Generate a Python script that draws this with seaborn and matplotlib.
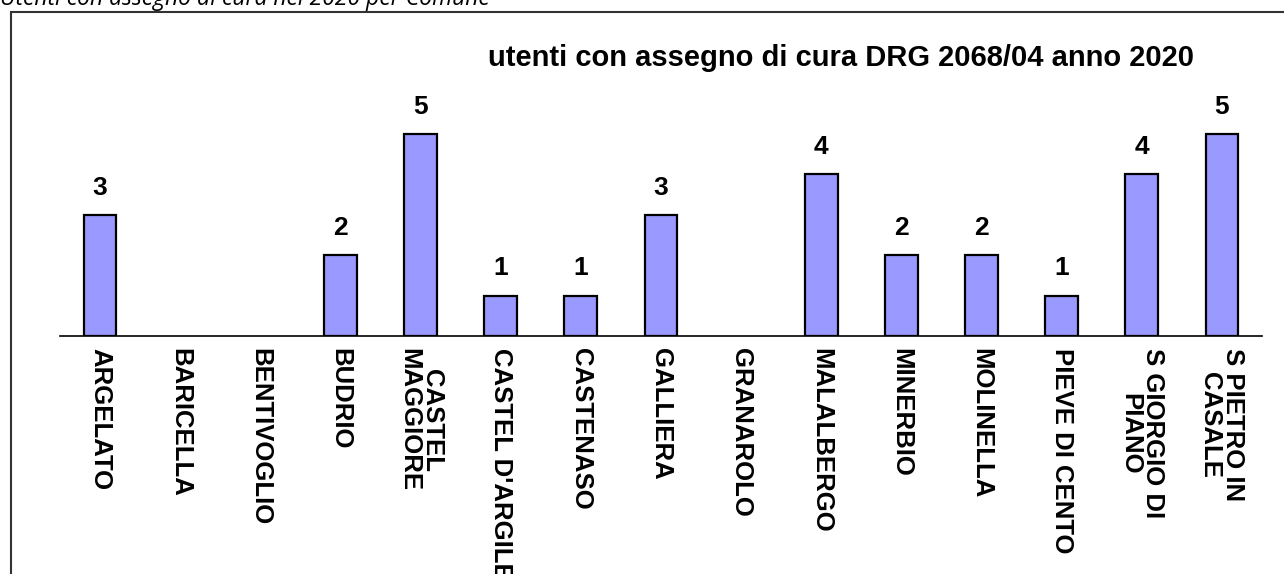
import numpy as np
import pandas as pd
import matplotlib
matplotlib.use("Agg")
import matplotlib.pyplot as plt
import seaborn as sns
from matplotlib.patches import Rectangle

comuni = ["ARGELATO", "BARICELLA", "BENTIVOGLIO", "BUDRIO", "CASTEL\nMAGGIORE",
          "CASTEL D'ARGILE", "CASTENASO", "GALLIERA", "GRANAROLO", "MALALBERGO",
          "MINERBIO", "MOLINELLA", "PIEVE DI CENTO", "S GIORGIO DI\nPIANO",
          "S PIETRO IN\nCASALE"]
utenti = [3, 0, 0, 2, 5, 1, 1, 3, 0, 4, 2, 2, 1, 4, 5]

titolo = "utenti con assegno di cura DRG 2068/04 anno 2020"
didascalia = "Utenti con assegno di cura nel 2020 per Comune"

data = pd.DataFrame({"comune": comuni, "utenti": utenti})

sns.set_style("white")
plt.rcParams['font.family'] = ['Liberation Sans', 'DejaVu Sans']
plt.rcParams['text.color'] = 'black'
plt.rcParams['xtick.color'] = 'black'

fig = plt.figure(figsize=(12.84, 5.74), dpi=100)
ax = fig.add_axes([60/1284, 1-336/574, 1202/1284, (336-93.6)/574])

sns.barplot(data=data, x="comune", y="utenti", color="#9999ff", saturation=1,
            width=0.41, edgecolor="black", linewidth=1.6, ax=ax)

# niente bordo per le barre a zero
for p in ax.patches:
    if p.get_height() == 0:
        p.set_linewidth(0)

# etichette valore sopra le barre
for i, v in enumerate(utenti):
    if v > 0:
        ax.annotate(str(v), (i, v), xytext=(0, 11), textcoords="offset points",
                    ha="center", va="bottom", fontsize=19, fontweight="bold")

ax.set_xlim(-0.5, len(comuni) - 0.5)
ax.set_ylim(0, 6)
ax.set_xlabel("")
ax.set_ylabel("")
ax.set_yticks([])
for s in ["top", "right", "left"]:
    ax.spines[s].set_visible(False)
ax.spines["bottom"].set_linewidth(1.2)
ax.spines["bottom"].set_color("black")

ax.set_xticks(np.arange(len(comuni)))
ax.set_xticklabels(comuni, rotation=270, ha="center", va="top",
                   family=['Liberation Sans Narrow', 'Liberation Sans'],
                   fontsize=18.5, fontweight="bold", linespacing=0.95)
ax.tick_params(axis="x", which="major", length=0, pad=9)
ax.set_xticks(np.arange(len(comuni) + 1) - 0.5, minor=True)
ax.tick_params(axis="x", which="minor", length=8, width=1.2, direction="out", color="black")

fig.text(841/1284, 1-58/574, titolo, ha="center", va="center",
         fontsize=21, fontweight="bold")
fig.text(0.0, 1-5/574, didascalia, ha="left", va="baseline",
         fontsize=16.5, style="italic", family="Open Sans")

# cornice
fig.add_artist(Rectangle((11/1284, -0.2), 1.2, 1.2 - 12/574, transform=fig.transFigure,
                         fill=False, edgecolor="#333333", linewidth=1.5))

fig.savefig("out.png", dpi=100)
